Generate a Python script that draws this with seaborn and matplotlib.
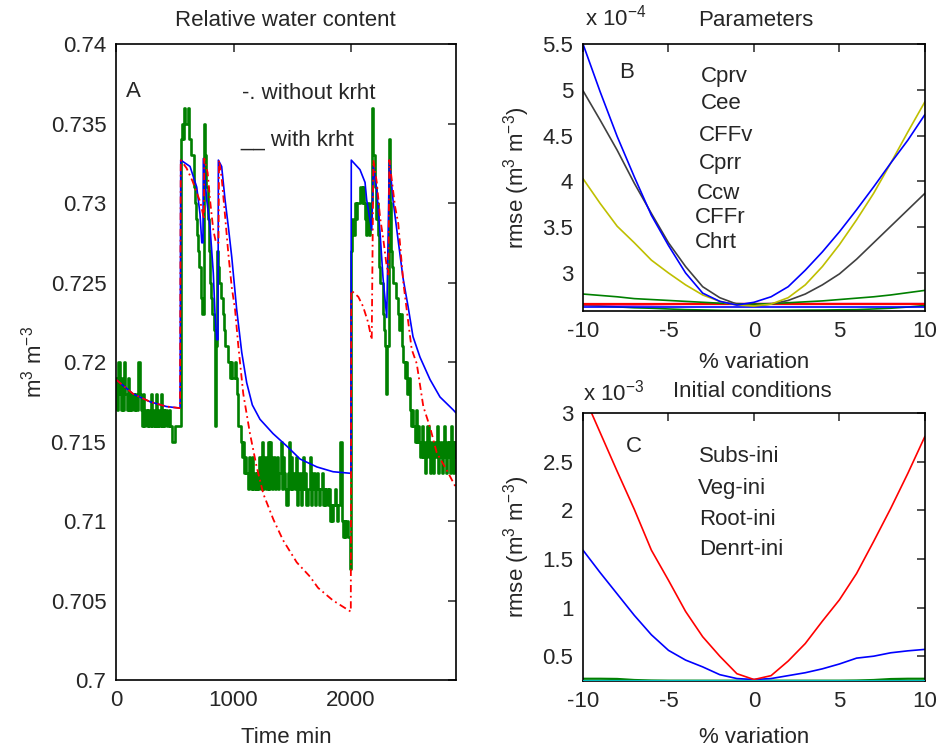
import matplotlib.pyplot as plt
import numpy as np
import seaborn as sns
from matplotlib.ticker import FuncFormatter

# ---------------- Panel A: relative water content (m3 m-3) vs time (min)
# simulation with krht (blue solid)
t_con_krht = [0, 145, 290, 430, 545, 551, 630, 687, 715, 730,
              740, 743, 772, 800, 828, 842, 857, 868, 871, 899,
              928, 956, 985, 1027, 1070, 1112, 1160, 1225, 1336, 1455,
              1566, 1710, 1847, 1999, 2002, 2076, 2119, 2133, 2162, 2176,
              2190, 2219, 2247, 2272, 2304, 2326, 2357, 2400, 2442, 2485,
              2527, 2587, 2672, 2757, 2868, 2893]
wc_con_krht = [0.7189, 0.7180, 0.7175, 0.7172, 0.7171, 0.7327, 0.7323, 0.7310, 0.7293, 0.7275,
               0.7275, 0.7328, 0.7302, 0.7285, 0.7256, 0.7231, 0.7214, 0.7214, 0.7327, 0.7323,
               0.7302, 0.7285, 0.7266, 0.7233, 0.7206, 0.7187, 0.7173, 0.7164, 0.7155, 0.7147,
               0.7139, 0.7134, 0.7131, 0.7130, 0.7327, 0.7321, 0.7313, 0.7302, 0.7289, 0.7283,
               0.7323, 0.7308, 0.7281, 0.7253, 0.7228, 0.7327, 0.7302, 0.7277, 0.7253, 0.7235,
               0.7216, 0.7203, 0.7189, 0.7178, 0.7170, 0.7168]

# simulation without krht (red dash-dot)
t_sin_krht = [0, 145, 290, 430, 545, 551, 600, 650, 690, 720,
              748, 751, 780, 800, 828, 851, 872, 877, 899, 928,
              956, 985, 1013, 1041, 1083, 1140, 1197, 1254, 1339, 1421,
              1538, 1651, 1719, 1847, 1998, 2002, 2062, 2102, 2145, 2176,
              2190, 2219, 2247, 2275, 2300, 2318, 2326, 2374, 2402, 2445,
              2487, 2516, 2559, 2615, 2672, 2729, 2814, 2893]
wc_sin_krht = [0.7189, 0.7180, 0.7175, 0.7172, 0.7171, 0.7327, 0.7322, 0.7314, 0.7306, 0.7300,
               0.7290, 0.7328, 0.7319, 0.7302, 0.7283, 0.7275, 0.7275, 0.7327, 0.7316, 0.7292,
               0.7268, 0.7247, 0.7233, 0.7210, 0.7180, 0.7155, 0.7134, 0.7117, 0.7101, 0.7088,
               0.7074, 0.7065, 0.7058, 0.7050, 0.7043, 0.7245, 0.7241, 0.7235, 0.7225, 0.7214,
               0.7327, 0.7313, 0.7291, 0.7277, 0.7262, 0.7255, 0.7327, 0.7298, 0.7287, 0.7250,
               0.7225, 0.7208, 0.7199, 0.7172, 0.7159, 0.7143, 0.7132, 0.7121]

# observed, logged every 10 min, in 1/1000 m3 m-3
t_obs = np.arange(0, 2900, 10)
wc_obs_mil = [
    719, 717, 720, 718, 717, 719, 717, 720, 718, 717,
    719, 717, 718, 717, 718, 717, 718, 717, 717, 720,
    718, 717, 716, 718, 716, 717, 716, 717, 716, 716,
    718, 716, 717, 716, 718, 716, 717, 716, 718, 716,
    717, 716, 717, 716, 716, 717, 716, 716, 715, 715,
    716, 716, 716, 716, 716, 734, 735, 734, 736, 735,
    735, 736, 734, 734, 733, 733, 731, 730, 729, 728,
    727, 726, 724, 723, 723, 735, 733, 731, 729, 727,
    725, 724, 723, 722, 716, 721, 727, 726, 725, 724,
    724, 723, 722, 721, 721, 720, 720, 719, 720, 719,
    719, 720, 719, 718, 716, 716, 715, 714, 715, 713,
    714, 713, 712, 714, 713, 712, 714, 712, 713, 712,
    713, 712, 714, 712, 715, 712, 713, 714, 712, 715,
    712, 715, 713, 712, 714, 712, 713, 714, 712, 713,
    715, 712, 714, 713, 712, 711, 713, 715, 712, 714,
    712, 713, 712, 714, 711, 712, 713, 711, 712, 714,
    712, 713, 711, 712, 712, 714, 711, 712, 713, 711,
    712, 713, 712, 711, 712, 713, 711, 712, 711, 712,
    711, 712, 710, 711, 710, 711, 712, 711, 710, 711,
    711, 715, 710, 709, 710, 709, 710, 709, 709, 707,
    727, 729, 728, 730, 729, 730, 730, 730, 731, 730,
    731, 730, 729, 728, 730, 728, 729, 730, 736, 733,
    731, 729, 730, 728, 726, 725, 725, 723, 722, 721,
    718, 721, 734, 730, 727, 726, 725, 725, 724, 724,
    723, 722, 723, 721, 720, 720, 719, 720, 718, 719,
    717, 716, 717, 716, 715, 717, 715, 716, 715, 714,
    716, 714, 715, 713, 714, 716, 714, 713, 715, 714,
    713, 715, 714, 716, 713, 714, 715, 713, 714, 716,
    714, 713, 715, 714, 713, 716, 714, 713, 715, 714,
]

# ---------------- Panels B and C: rmse vs % variation
variacion = [-10, -9, -8, -7, -6, -5, -4, -3, -2, -1, 0,
             1, 2, 3, 4, 5, 6, 7, 8, 9, 10]

# B: parameters, rmse in 1e-4 m3 m-3
rmse_cprv = [5.50, 4.98, 4.49, 4.05, 3.63, 3.30, 3.00, 2.78, 2.69, 2.65, 2.68,
             2.74, 2.85, 3.03, 3.23, 3.45, 3.69, 3.94, 4.20, 4.45, 4.73]
rmse_cee = [2.77, 2.755, 2.74, 2.72, 2.71, 2.70, 2.69, 2.68, 2.67, 2.665, 2.66,
            2.665, 2.675, 2.685, 2.695, 2.71, 2.725, 2.74, 2.76, 2.785, 2.81]
rmse_cffv = [2.665, 2.665, 2.665, 2.665, 2.665, 2.665, 2.665, 2.665, 2.665, 2.665, 2.665,
             2.665, 2.665, 2.665, 2.665, 2.665, 2.665, 2.665, 2.665, 2.665, 2.665]
rmse_ccw = [2.655, 2.655, 2.655, 2.655, 2.657, 2.66, 2.662, 2.662, 2.662, 2.662, 2.662,
            2.662, 2.662, 2.662, 2.662, 2.662, 2.662, 2.662, 2.662, 2.662, 2.662]
rmse_cffr = [4.03, 3.76, 3.51, 3.33, 3.14, 3.00, 2.87, 2.76, 2.69, 2.65, 2.64,
             2.66, 2.73, 2.87, 3.07, 3.31, 3.58, 3.87, 4.20, 4.54, 4.87]
rmse_chrt = [4.99, 4.67, 4.34, 3.98, 3.65, 3.33, 3.07, 2.85, 2.73, 2.66, 2.64,
             2.66, 2.70, 2.77, 2.87, 2.99, 3.15, 3.33, 3.51, 3.69, 3.87]
rmse_plano_azul = [2.627, 2.627, 2.627, 2.627, 2.627, 2.627, 2.627, 2.627, 2.627, 2.627, 2.627,
                   2.627, 2.627, 2.627, 2.627, 2.627, 2.627, 2.627, 2.627, 2.627, 2.627]
rmse_plano_verde = [2.65, 2.64, 2.63, 2.62, 2.615, 2.607, 2.60, 2.596, 2.592, 2.59, 2.59,
                    2.59, 2.592, 2.594, 2.595, 2.598, 2.60, 2.607, 2.615, 2.628, 2.645]
etiquetas_b = ["Cprv", "Cee", "CFFv", "Cprr", "Ccw", "CFFr", "Chrt"]

# C: initial conditions, rmse in 1e-3 m3 m-3
rmse_subs = [1.59, 1.36, 1.14, 0.92, 0.72, 0.56, 0.46, 0.39, 0.31, 0.27, 0.26,
             0.27, 0.30, 0.33, 0.37, 0.42, 0.48, 0.50, 0.535, 0.555, 0.57]
rmse_veg = [0.268, 0.268, 0.266, 0.255, 0.25, 0.248, 0.248, 0.248, 0.248, 0.248, 0.248,
            0.248, 0.248, 0.248, 0.248, 0.248, 0.25, 0.255, 0.265, 0.268, 0.268]
rmse_root = [3.20, 2.80, 2.40, 2.01, 1.59, 1.28, 0.96, 0.70, 0.50, 0.32, 0.26,
             0.30, 0.45, 0.63, 0.86, 1.08, 1.35, 1.68, 2.02, 2.38, 2.76]
rmse_denrt = [0.247, 0.247, 0.247, 0.247, 0.247, 0.247, 0.247, 0.247, 0.247, 0.247, 0.247,
              0.247, 0.247, 0.247, 0.247, 0.247, 0.247, 0.247, 0.247, 0.247, 0.247]
etiquetas_c = ["Subs-ini", "Veg-ini", "Root-ini", "Denrt-ini"]

AZUL = "#0000ff"
VERDE = "#008000"
ROJO = "#ff0000"
MAGENTA = "#bf00bf"
AMARILLO = "#bfbf00"
GRIS = "#404040"
CIAN = "#00bfbf"

sns.set_style("white")
plt.rcParams["font.family"] = ["Liberation Sans", "DejaVu Sans"]
plt.rcParams["mathtext.fontset"] = "custom"
plt.rcParams["mathtext.rm"] = "Liberation Sans"
plt.rcParams["mathtext.it"] = "Liberation Sans:italic"
plt.rcParams["axes.unicode_minus"] = False
plt.rcParams["font.size"] = 16


def linea(ax, x, y, color, lw=1.2, **kw):
    sns.lineplot(x=x, y=y, ax=ax, color=color, linewidth=lw,
                 estimator=None, sort=False, errorbar=None, **kw)


def estilo_matlab(ax):
    for s in ax.spines.values():
        s.set_visible(True)
        s.set_linewidth(1.2)
        s.set_color("black")
    ax.tick_params(direction="in", top=True, right=True, length=6, width=1.1,
                   labelsize=16, pad=7)


fig = plt.figure(figsize=(9.4, 7.49), dpi=100)
ax_a = fig.add_axes([0.1234, 0.0921, 0.3617, 0.8491])
ax_b = fig.add_axes([0.6202, 0.5848, 0.3638, 0.3565])
ax_c = fig.add_axes([0.6202, 0.0908, 0.3638, 0.3578])

# ---- A
linea(ax_a, t_obs, np.array(wc_obs_mil) / 1000, VERDE, lw=1.9, drawstyle="steps-post")
linea(ax_a, t_con_krht, wc_con_krht, AZUL, lw=1.2)
linea(ax_a, t_sin_krht, wc_sin_krht, ROJO, lw=1.3, dashes=(4, 2, 1, 2))
ax_a.set_xlim(0, 2893)
ax_a.set_ylim(0.70, 0.74)
ax_a.set_xticks([0, 1000, 2000])
ax_a.set_yticks([0.70, 0.705, 0.71, 0.715, 0.72, 0.725, 0.73, 0.735, 0.74])
ax_a.yaxis.set_major_formatter(FuncFormatter(lambda v, p: f"{v:g}"))
estilo_matlab(ax_a)
ax_a.set_xlabel("Time min")
ax_a.set_ylabel("m$^3$ m$^{-3}$")
ax_a.xaxis.set_label_coords(0.5, -0.074)
ax_a.yaxis.set_label_coords(-0.205, 0.5)
ax_a.text(85, 0.73669, "A", va="baseline")
ax_a.text(1069, 0.73654, "-. without krht", va="baseline")
ax_a.text(1055, 0.73358, "__ with krht", va="baseline")
fig.text(0.304, 0.965, "Relative water content", ha="center", va="baseline")

# ---- B
linea(ax_b, variacion, rmse_plano_verde, VERDE)
linea(ax_b, variacion, rmse_plano_azul, AZUL)
linea(ax_b, variacion, rmse_ccw, MAGENTA, lw=1.6)
linea(ax_b, variacion, rmse_cffv, ROJO, lw=1.6)
linea(ax_b, variacion, rmse_cee, VERDE)
linea(ax_b, variacion, rmse_chrt, GRIS)
linea(ax_b, variacion, rmse_cffr, AMARILLO)
linea(ax_b, variacion, rmse_cprv, AZUL)
ax_b.set_xlim(-10, 10)
ax_b.set_ylim(2.585, 5.5)
ax_b.set_xticks([-10, -5, 0, 5, 10])
ax_b.set_yticks([3, 3.5, 4, 4.5, 5, 5.5])
ax_b.yaxis.set_major_formatter(FuncFormatter(lambda v, p: f"{v:g}"))
estilo_matlab(ax_b)
ax_b.set_xlabel("% variation")
ax_b.set_ylabel("rmse (m$^3$ m$^{-3}$)")
ax_b.xaxis.set_label_coords(0.5, -0.154)
ax_b.yaxis.set_label_coords(-0.15, 0.5)
ax_b.text(-7.89, 5.132, "B", va="baseline")
pos_b = [(-3.12, 5.088), (-3.12, 4.787), (-3.22, 4.444), (-3.22, 4.135),
         (-3.35, 3.805), (-3.45, 3.543), (-3.45, 3.27)]
for (x, y), txt in zip(pos_b, etiquetas_b):
    ax_b.text(x, y, txt, va="baseline")
fig.text(0.622, 0.966, "x 10$^{-4}$", ha="left", va="baseline")
fig.text(0.804, 0.965, "Parameters", ha="center", va="baseline")

# ---- C
linea(ax_c, variacion, rmse_veg, VERDE, lw=1.6)
linea(ax_c, variacion, rmse_denrt, CIAN, lw=1.6, zorder=3)
linea(ax_c, variacion, rmse_subs, AZUL)
linea(ax_c, variacion, rmse_root, ROJO)
ax_c.set_xlim(-10, 10)
ax_c.set_ylim(0.245, 3.0)
ax_c.set_xticks([-10, -5, 0, 5, 10])
ax_c.set_yticks([0.5, 1, 1.5, 2, 2.5, 3])
ax_c.yaxis.set_major_formatter(FuncFormatter(lambda v, p: f"{v:g}"))
estilo_matlab(ax_c)
ax_c.set_xlabel("% variation")
ax_c.set_ylabel("rmse (m$^3$ m$^{-3}$)")
ax_c.xaxis.set_label_coords(0.5, -0.172)
ax_c.yaxis.set_label_coords(-0.15, 0.5)
ax_c.text(-7.50, 2.595, "C", va="baseline")
pos_c = [(-3.20, 2.496), (-3.29, 2.167), (-3.20, 1.844), (-3.20, 1.536)]
for (x, y), txt in zip(pos_c, etiquetas_c):
    ax_c.text(x, y, txt, va="baseline")
fig.text(0.6205, 0.465, "x 10$^{-3}$", ha="left", va="baseline")
fig.text(0.80, 0.470, "Initial conditions", ha="center", va="baseline")

fig.savefig("out.png", dpi=100)
